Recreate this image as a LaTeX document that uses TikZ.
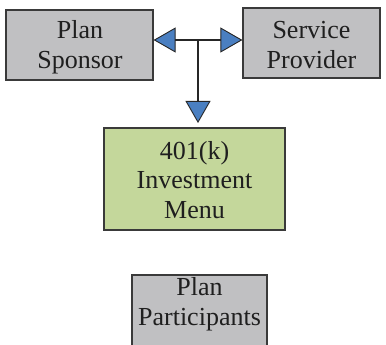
\documentclass[tikz,border=0pt]{standalone}
\usepackage{fontspec}
\setmainfont{Liberation Serif}
\usetikzlibrary{arrows.meta}
\definecolor{boxgray}{HTML}{C0C0C2}
\definecolor{boxgreen}{HTML}{C4D79B}
\definecolor{arrblue}{HTML}{4A7FC1}
\definecolor{edge}{HTML}{3A3A3A}
\tikzset{
  box/.style={draw=edge, line width=1.2pt, fill=boxgray, inner sep=0pt},
  txt/.style={align=center, font=\fontsize{26}{29.5}\selectfont, text=black!88, inner sep=0pt},
  conn/.style={draw=black!85, line width=2.4pt,
    -{Triangle[length=22pt,width=25pt,fill=arrblue,line width=0.9pt]}},
}
\begin{document}
\begin{tikzpicture}[x=1pt,y=-1pt]
\useasboundingbox (0,0) rectangle (386,345);
\clip (0,0) rectangle (386,345);
% boxes
\node[box, minimum width=147pt, minimum height=70pt] (ps) at (79.5,45) {};
\node[txt] (pst) at (80,47) {Plan\\Sponsor};
\node[box, minimum width=137pt, minimum height=70pt] (sp) at (311.5,43) {};
\node[txt] (spt) at (311.5,45) {Service\\Provider};
\node[box, fill=boxgreen, minimum width=181pt, minimum height=102pt] (menu) at (194.5,179) {};
\node[txt] (menut) at (194.5,180) {401(k)\\Investment\\Menu};
\node[box, minimum width=135pt, minimum height=76pt] (pp) at (199.5,313) {};
\node[txt] (ppt) at (199.5,304) {Plan\\Participants};
% connectors
\coordinate (J) at (198,40);
\draw[conn] (J) -- (J -| ps.east);
\draw[conn] (J) -- (J -| sp.west);
\draw[conn] (J) -- (198,123);
\end{tikzpicture}
\end{document}
